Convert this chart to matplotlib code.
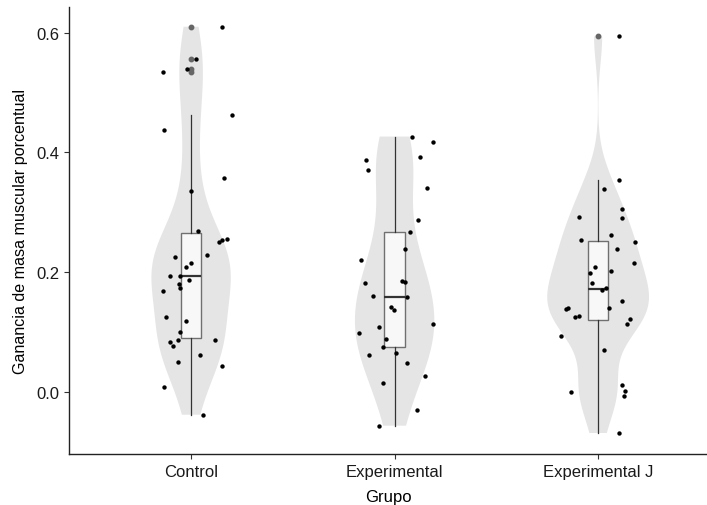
import numpy as np
import matplotlib
matplotlib.use("Agg")
import matplotlib.pyplot as plt

groups = ["Control", "Experimental", "Experimental J"]

control = [0.610, 0.556, 0.539, 0.534, 0.462, 0.438, 0.358, 0.336,
           0.269, 0.2556, 0.254, 0.250, 0.226, 0.228, 0.216, 0.208,
           0.193, 0.193, 0.187, 0.181, 0.174, 0.169, 0.126, 0.119,
           0.101, 0.087, 0.087, 0.084, 0.077, 0.061, 0.050, 0.044,
           0.008, -0.038]
control_jit = [0.152, 0.026, -0.018, -0.138, 0.201, -0.134, 0.161, -0.002,
               0.034, 0.178, 0.154, 0.139, -0.079, 0.079, -0.002, -0.026,
               -0.103, -0.054, -0.010, -0.059, -0.054, -0.138, -0.124, -0.023,
               -0.054, -0.062, 0.118, -0.106, -0.088, 0.043, -0.065, 0.152,
               -0.133, 0.058]

experimental = [0.4266, 0.4177, 0.3876, 0.392, 0.370, 0.340, 0.288, 0.268,
                0.238, 0.220, 0.186, 0.184, 0.182, 0.160, 0.159, 0.1426,
                0.1375, 0.114, 0.108, 0.099, 0.0886, 0.075, 0.0646, 0.062,
                0.048, 0.027, 0.0156, -0.0296, -0.0563]
experimental_jit = [0.087, 0.190, -0.141, 0.126, -0.131, 0.160, 0.116, 0.077,
                    0.052, -0.167, 0.034, 0.052, -0.144, -0.106, 0.059, -0.018,
                    -0.001, 0.190, -0.075, -0.177, -0.044, -0.057, 0.008, -0.128,
                    0.062, 0.149, -0.059, 0.110, -0.075]

experimental_j = [0.594, 0.3547, 0.3397, 0.305, 0.292, 0.290, 0.262, 0.253,
                  0.251, 0.2395, 0.216, 0.209, 0.202, 0.198, 0.1827, 0.174,
                  0.170, 0.1515, 0.1409, 0.1409, 0.139, 0.1275, 0.126, 0.122,
                  0.1136, 0.094, 0.0707, 0.0122, 0.000, 0.002, -0.007, -0.0685]
experimental_j_jit = [0.102, 0.105, 0.029, 0.118, -0.092, 0.115, 0.062, -0.083,
                      0.182, 0.092, 0.177, -0.013, 0.062, -0.041, -0.031, 0.041,
                      0.021, 0.115, 0.053, -0.150, -0.158, -0.094, -0.113, 0.158,
                      0.141, -0.180, 0.029, 0.118, -0.133, 0.133, 0.128, 0.105]

data = [control, experimental, experimental_j]
jitter = [control_jit, experimental_jit, experimental_j_jit]
violin_widths = [0.39, 0.39, 0.5]


def nrd0(x):
    # ancho de banda tipo R (bw.nrd0), como factor para gaussian_kde
    x = np.asarray(x)
    sd = np.std(x, ddof=1)
    iqr = np.subtract(*np.percentile(x, [75, 25]))
    lo = min(sd, iqr / 1.34)
    return 0.9 * lo * len(x) ** -0.2 / sd


plt.rcParams['font.family'] = ['Liberation Sans', 'DejaVu Sans']
fig = plt.figure(figsize=(7.07, 5.06), dpi=100)
ax = fig.add_axes([69 / 707, 51 / 506, 1 - 69 / 707, (455 - 8) / 506])

for i, d in enumerate(data):
    vp = ax.violinplot([d], positions=[i + 1], widths=violin_widths[i],
                       bw_method=nrd0(d), points=512,
                       showmeans=False, showextrema=False, showmedians=False)
    for b in vp['bodies']:
        b.set_facecolor('#e5e5e5')
        b.set_edgecolor('none')
        b.set_alpha(1)

ax.boxplot(data, positions=[1, 2, 3], widths=0.1, patch_artist=True,
           boxprops=dict(facecolor='#f8f8f8', edgecolor='#707070', linewidth=1),
           medianprops=dict(color='#333333', linewidth=1.6),
           whiskerprops=dict(color='#333333', linewidth=0.9),
           capprops=dict(linewidth=0),
           flierprops=dict(marker='o', markerfacecolor='#666666',
                           markeredgecolor='#666666', markersize=3.2))

for i, d in enumerate(data):
    xs = np.array(jitter[i]) + i + 1
    ax.scatter(xs, d, s=10, color='black', zorder=5, linewidths=0)

ax.set_xlim(0.4, 3.535)
ax.set_ylim(-0.1036, 0.643)
ax.set_xticks([1, 2, 3])
ax.set_xticklabels(groups)
ax.set_yticks([0.0, 0.2, 0.4, 0.6])
ax.set_yticklabels(['0.0', '0.2', '0.4', '0.6'])
ax.tick_params(labelsize=12, color='#333333', length=3.5, labelcolor='#1a1a1a')
ax.set_xlabel('Grupo', fontsize=12, labelpad=7.5)
ax.set_ylabel('Ganancia de masa muscular porcentual', fontsize=11.6, labelpad=6)
for s in ['top', 'right']:
    ax.spines[s].set_visible(False)
for s in ['left', 'bottom']:
    ax.spines[s].set_linewidth(1)
    ax.spines[s].set_color('#222222')

fig.savefig('out.png', dpi=100)
